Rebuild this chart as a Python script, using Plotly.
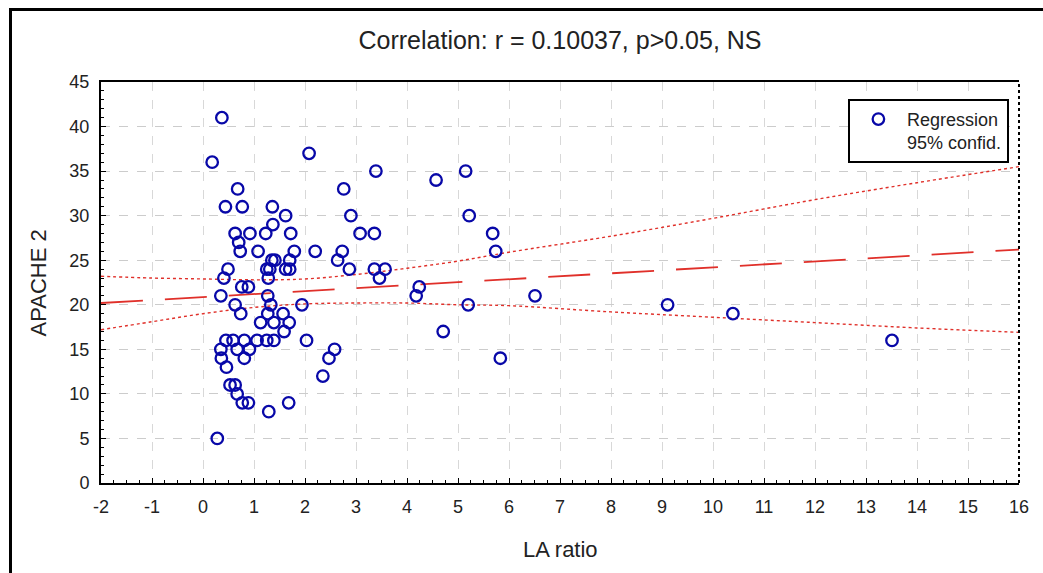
import plotly.graph_objects as go

# Scatter data: LA ratio (x) vs APACHE 2 (y)
la_ratio = [0.37, 0.18, 2.08, 3.39, 4.57, 5.15, 5.22, 5.68, 5.74, 0.68,
            0.44, 0.77, 1.36, 1.62, 1.37, 0.63, 0.92, 1.23, 1.72, 0.70,
            0.73, 1.08, 1.79, 2.20, 2.76, 2.90, 3.08, 3.36, 2.73, 2.64,
            2.87, 3.36, 3.57, 3.46, 0.49, 0.41, 1.25, 1.35, 1.41, 1.70,
            1.62, 1.70, 1.31, 1.28, 0.76, 0.89, 4.24, 0.35, 4.18, 1.27,
            0.63, 1.33, 1.94, 5.20, 0.74, 1.27, 1.57, 1.13, 1.39, 1.69,
            1.59, 4.71, 2.03, 0.45, 0.59, 0.81, 1.06, 1.25, 1.39, 0.35,
            0.67, 0.91, 2.58, 0.36, 0.81, 2.47, 5.83, 0.46, 2.35, 0.53,
            0.63, 0.67, 0.77, 0.89, 1.68, 1.29, 0.28, 6.51, 9.11, 10.39,
            13.51]
apache2 = [41, 36, 37, 35, 34, 35, 30, 28, 26, 33,
           31, 31, 31, 30, 29, 28, 28, 28, 28, 27,
           26, 26, 26, 26, 33, 30, 28, 28, 26, 25,
           24, 24, 24, 23, 24, 23, 24, 25, 25, 25,
           24, 24, 24, 23, 22, 22, 22, 21, 21, 21,
           20, 20, 20, 20, 19, 19, 19, 18, 18, 18,
           17, 17, 16, 16, 16, 16, 16, 16, 16, 15,
           15, 15, 15, 14, 14, 14, 14, 13, 12, 11,
           11, 10, 9, 9, 9, 8, 5, 21, 20, 19,
           16]

# Regression line and 95% confidence band
reg_x = [-2, 16]
reg_y = [20.2, 26.2]
ci_x = [-2, -1, 0, 1, 2, 3, 4, 5, 6, 8, 10, 12, 14, 16]
ci_upper = [23.2, 23.0, 22.9, 22.8, 22.9, 23.4, 24.1, 24.9, 25.9, 27.7, 29.7, 31.8, 33.7, 35.5]
ci_lower = [17.2, 18.1, 19.0, 19.7, 20.1, 20.2, 20.2, 20.0, 19.9, 19.2, 18.6, 18.0, 17.4, 16.9]

# Tick labels
x_tickvals = list(range(-2, 17))
x_ticktext = ["-2", "-1", "0", "1", "2", "3", "4", "5", "6", "7", "8", "9",
              "10", "11", "12", "13", "14", "15", "16"]
y_tickvals = [0, 5, 10, 15, 20, 25, 30, 35, 40, 45]
y_ticktext = ["0", "5", "10", "15", "20", "25", "30", "35", "40", "45"]

title_text = "Correlation: r = 0.10037, p>0.05, NS"
x_title = "LA ratio"
y_title = "APACHE 2"

FONT = "Liberation Sans, Arial, sans-serif"
RED = "#e0302a"
BLUE = "#0808a8"

fig = go.Figure()

fig.add_trace(go.Scatter(x=ci_x, y=ci_upper, mode="lines", line=dict(color=RED, width=1.4, dash="3px,3px"),
                         line_shape="spline", showlegend=False, hoverinfo="skip"))
fig.add_trace(go.Scatter(x=ci_x, y=ci_lower, mode="lines", line=dict(color=RED, width=1.4, dash="3px,3px"),
                         line_shape="spline", showlegend=False, hoverinfo="skip"))
fig.add_trace(go.Scatter(x=reg_x, y=reg_y, mode="lines", line=dict(color=RED, width=1.8, dash="42px,22px"),
                         showlegend=False, hoverinfo="skip"))
fig.add_trace(go.Scatter(x=la_ratio, y=apache2, mode="markers", name="Regression<br>95% confid.",
                         marker=dict(symbol="circle-open", size=11.5, color=BLUE, line=dict(width=2.3, color=BLUE))))

fig.update_layout(
    width=1043, height=573,
    margin=dict(l=101, r=24, t=82, b=90),
    paper_bgcolor="white", plot_bgcolor="white",
    font=dict(family=FONT, color="#222222", size=18),
    title=dict(text=title_text, x=0.5, xref="paper", xanchor="center",
               y=1 - 40 / 573, yref="container", yanchor="middle",
               font=dict(size=25, family=FONT, color="#222222")),
    legend=dict(x=0.989, xanchor="right", y=0.958, yanchor="top",
                bordercolor="black", borderwidth=2, bgcolor="white",
                font=dict(size=18, family=FONT, color="#222222"), valign="top",
                itemwidth=47),
    showlegend=True,
)

fig.update_xaxes(range=[-2, 16], tickvals=x_tickvals, ticktext=x_ticktext,
                 showgrid=True, gridcolor="#d8d8d8", griddash="dash",
                 gridwidth=1, showline=True, linecolor="black", linewidth=2, mirror=True,
                 ticks="inside", ticklen=5, tickcolor="black", zeroline=False,
                 tickfont=dict(size=18), ticklabelstandoff=6,
                 minor=dict(ticks="inside", dtick=0.25, ticklen=3, tickcolor="black", showgrid=False))
fig.update_yaxes(range=[0, 45], tickvals=y_tickvals, ticktext=y_ticktext,
                 showgrid=True, gridcolor="#cccccc", griddash="dash",
                 gridwidth=1, showline=True, linecolor="black", linewidth=2, mirror=False,
                 ticks="inside", ticklen=5, tickcolor="black", zeroline=False,
                 tickfont=dict(size=18), ticklabelstandoff=6,
                 minor=dict(ticks="inside", dtick=1, ticklen=3, tickcolor="black", showgrid=False))

# dotted right border of plot area
fig.add_shape(type="line", xref="paper", yref="paper", x0=1, x1=1, y0=0, y1=1,
              line=dict(color="black", width=2, dash="dot"))
# outer frame (left and top visible)
fig.add_shape(type="rect", xref="paper", yref="paper",
              x0=(10.5 - 101) / 918, x1=1.1, y0=-0.5, y1=(483 - 9.5) / 401,
              line=dict(color="black", width=3), layer="below")

fig.add_annotation(text=x_title, xref="paper", yref="paper", x=0.5, y=(483 - 549) / 401,
                   showarrow=False, xanchor="center", yanchor="middle",
                   font=dict(size=22, family=FONT, color="#222222"))
fig.add_annotation(text=y_title, xref="paper", yref="paper", x=(38 - 101) / 918, y=0.5,
                   showarrow=False, xanchor="center", yanchor="middle", textangle=-90,
                   font=dict(size=22, family=FONT, color="#222222"))

fig.write_html("out.html", config={"displayModeBar": False},
               post_script="document.body.style.margin='0';document.body.style.overflow='hidden';")
